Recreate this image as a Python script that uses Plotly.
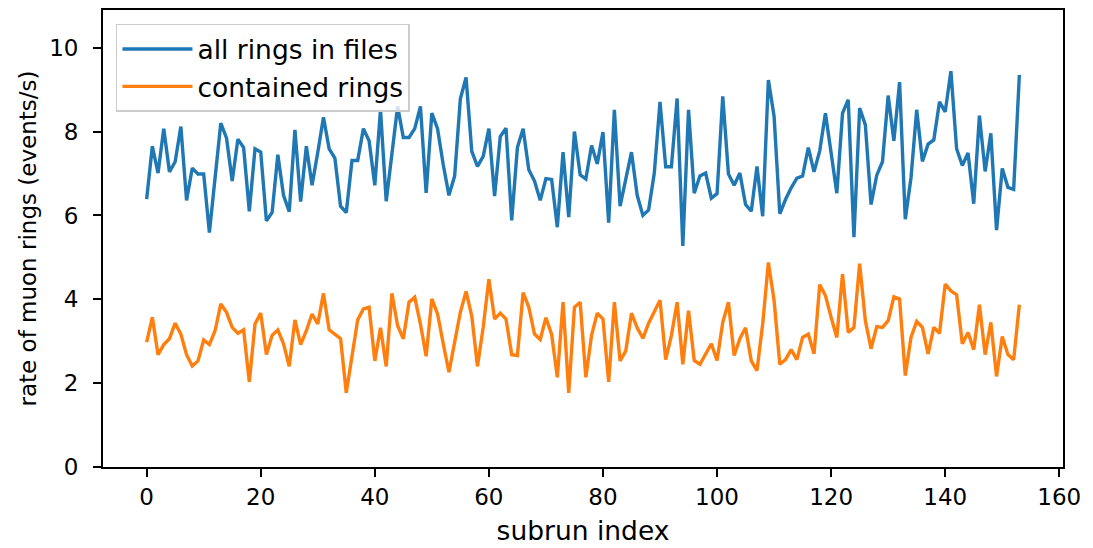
import plotly.graph_objects as go

# subrun rates
subrun = list(range(154))

all_rings = [
    6.39, 7.65, 7.01, 8.07, 7.04, 7.28, 8.12, 6.36, 7.13, 6.99,
    6.99, 5.59, 6.90, 8.20, 7.85, 6.82, 7.82, 7.62, 6.10, 7.59,
    7.51, 5.87, 6.07, 7.45, 6.48, 6.09, 8.04, 6.33, 7.65, 6.72,
    7.50, 8.34, 7.59, 7.37, 6.22, 6.07, 7.31, 7.31, 8.07, 7.78,
    6.72, 8.52, 6.34, 7.40, 8.60, 7.86, 7.86, 8.07, 8.60, 6.54,
    8.44, 8.07, 7.21, 6.48, 6.94, 8.78, 9.29, 7.53, 7.17, 7.41,
    8.07, 6.46, 7.88, 8.08, 5.88, 7.62, 8.07, 7.09, 6.82, 6.36,
    6.88, 6.86, 5.72, 7.51, 5.96, 8.00, 6.97, 6.87, 7.67, 7.23,
    7.99, 5.83, 8.52, 6.22, 6.85, 7.51, 6.48, 6.00, 6.13, 7.01,
    8.71, 7.16, 7.16, 8.79, 5.27, 8.52, 6.53, 6.94, 7.01, 6.41,
    6.52, 8.84, 6.99, 6.72, 7.01, 6.26, 6.10, 7.17, 5.98, 9.23,
    8.36, 6.04, 6.38, 6.66, 6.89, 6.94, 7.62, 7.04, 7.54, 8.44,
    7.49, 6.53, 8.44, 8.76, 5.48, 8.56, 8.16, 6.26, 6.96, 7.28,
    8.86, 7.78, 9.18, 5.91, 6.90, 8.52, 7.29, 7.70, 7.80, 8.71,
    8.47, 9.44, 7.59, 7.19, 7.49, 6.28, 8.38, 7.05, 7.96, 5.65,
    7.12, 6.67, 6.62, 9.35,
]

contained_rings = [
    2.98, 3.57, 2.68, 2.92, 3.06, 3.43, 3.17, 2.68, 2.41, 2.53,
    3.03, 2.92, 3.25, 3.89, 3.69, 3.33, 3.19, 3.27, 2.03, 3.41,
    3.67, 2.68, 3.14, 3.27, 2.94, 2.40, 3.51, 2.92, 3.25, 3.65,
    3.41, 4.14, 3.27, 3.17, 3.06, 1.77, 2.70, 3.51, 3.77, 3.81,
    2.53, 3.32, 2.40, 4.14, 3.37, 3.06, 3.93, 4.05, 3.41, 2.64,
    4.01, 3.65, 2.94, 2.26, 2.98, 3.69, 4.19, 3.60, 2.40, 3.33,
    4.48, 3.53, 3.67, 3.53, 2.68, 2.66, 4.16, 3.81, 3.17, 3.04,
    3.56, 3.16, 2.14, 3.93, 1.77, 3.81, 3.93, 2.14, 3.14, 3.67,
    3.53, 2.03, 3.93, 2.53, 2.77, 3.67, 3.32, 3.07, 3.43, 3.69,
    3.98, 2.56, 3.14, 3.93, 2.45, 3.73, 2.54, 2.45, 2.70, 2.94,
    2.54, 3.45, 3.93, 2.66, 3.06, 3.32, 2.53, 2.30, 3.41, 4.88,
    3.97, 2.45, 2.56, 2.80, 2.56, 3.09, 3.17, 2.70, 4.35, 4.09,
    3.57, 3.09, 4.60, 3.21, 3.33, 4.85, 3.49, 2.82, 3.35, 3.33,
    3.49, 4.06, 4.01, 2.18, 3.09, 3.47, 3.33, 2.70, 3.33, 3.19,
    4.36, 4.20, 4.11, 2.94, 3.21, 2.80, 3.87, 2.68, 3.45, 2.16,
    3.11, 2.68, 2.56, 3.87,
]

x_ticks = [0, 20, 40, 60, 80, 100, 120, 140, 160]
y_ticks = [0, 2, 4, 6, 8, 10]

TICK_FONT = dict(family="DejaVu Sans", size=23, color="black")
BIG_FONT = dict(family="DejaVu Sans", size=26.5, color="black")

fig = go.Figure()
fig.add_trace(go.Scatter(x=subrun, y=all_rings, mode="lines",
                         name="all rings in files",
                         line=dict(color="#1f77b4", width=3.4)))
fig.add_trace(go.Scatter(x=subrun, y=contained_rings, mode="lines",
                         name="contained rings",
                         line=dict(color="#ff7f0e", width=3.4)))

axis_common = dict(showline=True, linecolor="black", linewidth=1.9,
                   mirror=True, ticks="outside", ticklen=8, tickwidth=1.9,
                   tickcolor="black", showgrid=False, zeroline=False,
                   tickfont=TICK_FONT)

fig.update_xaxes(range=[-7.65, 160.65], tickvals=x_ticks,
                 title=dict(text="subrun index", font=BIG_FONT, standoff=13),
                 **axis_common)
fig.update_yaxes(range=[0, 10.9], tickvals=y_ticks, ticklabelstandoff=10,
                 title=dict(text="rate of muon rings (events/s)",
                            font=TICK_FONT, standoff=6),
                 **axis_common)

# the page body adds 8px around the plot, so the figure is made 8px smaller
fig.update_layout(
    width=1085, height=540,
    margin=dict(l=95, r=30, t=0, b=81),
    plot_bgcolor="white", paper_bgcolor="white",
    font=TICK_FONT,
    legend=dict(x=0.0135, y=0.97, xanchor="left", yanchor="top",
                bgcolor="rgba(255,255,255,0.8)", bordercolor="#cccccc",
                borderwidth=1.5, font=BIG_FONT, tracegroupgap=0,
                itemwidth=70),
)

fig.write_html("out.html")
